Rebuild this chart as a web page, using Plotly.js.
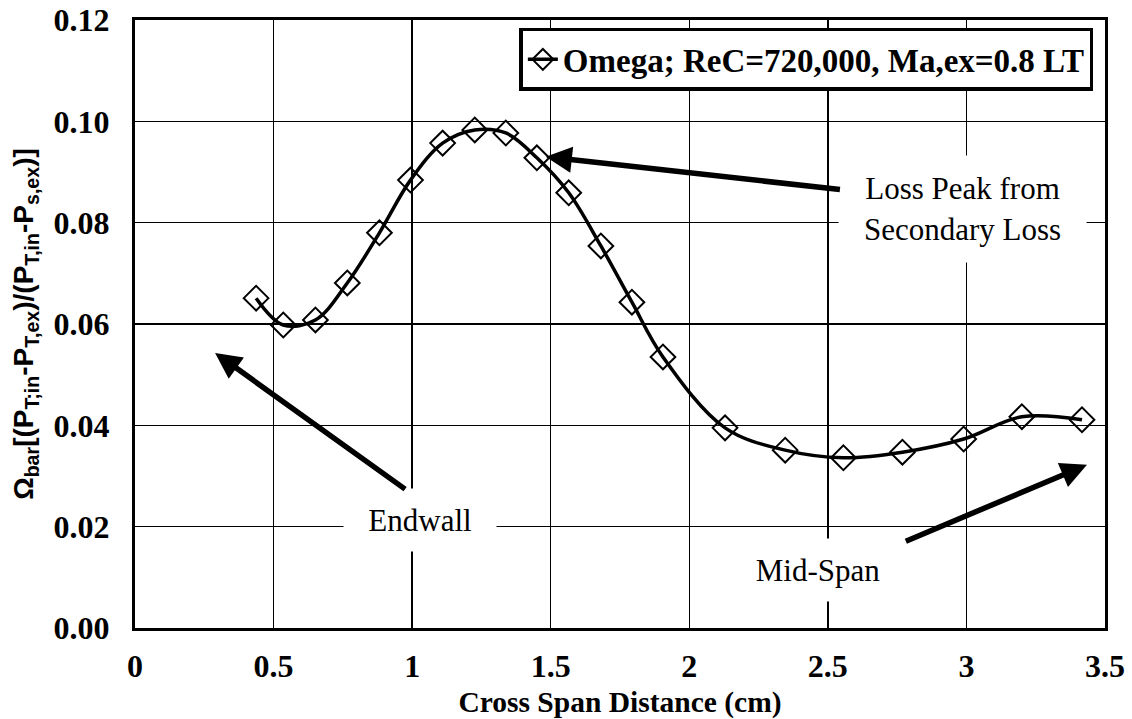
<!DOCTYPE html>
<html>
<head>
<meta charset="utf-8">
<script src="https://cdn.plot.ly/plotly-3.0.1.min.js"></script>
<style>html,body{margin:0;padding:0;background:#fff;}#chart{width:1132px;height:719px;}</style>
</head>
<body>
<div id="chart"></div>
<script>
// Data
const spanCm = [0.437, 0.535, 0.651, 0.766, 0.882, 0.994, 1.110, 1.226, 1.338, 1.450, 1.565, 1.681, 1.793, 1.905, 2.129, 2.346, 2.556, 2.769, 2.990, 3.200, 3.417];
const omegaBar = [0.0651, 0.0598, 0.0608, 0.0681, 0.0780, 0.0884, 0.0957, 0.0983, 0.0977, 0.0928, 0.0859, 0.0754, 0.0643, 0.0535, 0.0395, 0.0351, 0.0336, 0.0347, 0.0373, 0.0417, 0.0411];
const seriesName = "Omega; ReC=720,000, Ma,ex=0.8 LT";
const xTicks = [0, 0.5, 1, 1.5, 2, 2.5, 3, 3.5];
const xTickLabels = ["0", "0.5", "1", "1.5", "2", "2.5", "3", "3.5"];
const yTicks = [0, 0.02, 0.04, 0.06, 0.08, 0.10, 0.12];
const yTickLabels = ["0.00", "0.02", "0.04", "0.06", "0.08", "0.10", "0.12"];
const noteTexts = ["Loss Peak from<br>Secondary Loss", "Endwall", "Mid-Span"];

const serif = "Liberation Serif";

const trace = {
  x: spanCm, y: omegaBar, name: seriesName,
  type: "scatter", mode: "lines+markers",
  line: {color: "#000", width: 3.5, shape: "spline", smoothing: 1},
  marker: {symbol: "diamond-open", size: 19, color: "#000", line: {color: "#000", width: 2}}
};

const arrowStyle = {showarrow: true, arrowhead: 2, arrowsize: 0.95, arrowwidth: 5.5, arrowcolor: "#000",
  axref: "x", ayref: "y", xref: "x", yref: "y", text: ""};

const layout = {
  width: 1132, height: 719,
  margin: {l: 135, r: 27, t: 20, b: 91},
  paper_bgcolor: "#fff", plot_bgcolor: "#fff",
  font: {family: serif, color: "#000"},
  showlegend: true,
  legend: {x: 0.988, y: 0.987, xanchor: "right", yanchor: "top",
    bgcolor: "#fff", bordercolor: "#000", borderwidth: 3.5,
    font: {family: serif, size: 33, color: "#000", weight: "bold"}},
  xaxis: {range: [0, 3.5], tickvals: xTicks, ticktext: xTickLabels,
    showgrid: true, gridcolor: "#000", gridwidth: 1.5, zeroline: false,
    showline: true, linecolor: "#000", linewidth: 3, mirror: true, ticks: "",
    ticklabelstandoff: 8,
    tickfont: {family: serif, size: 32, color: "#000", weight: "bold"},
    title: {text: "Cross Span Distance (cm)", standoff: 10,
      font: {family: serif, size: 29.5, color: "#000", weight: "bold"}}},
  yaxis: {range: [0, 0.12], tickvals: yTicks, ticktext: yTickLabels,
    showgrid: true, gridcolor: "#000", gridwidth: 1.5, zeroline: false,
    showline: true, linecolor: "#000", linewidth: 3, mirror: true, ticks: "",
    ticklabelstandoff: 16,
    tickfont: {family: serif, size: 32, color: "#000", weight: "bold"},
    title: {text: "Ω<sub>bar</sub>[(P<sub>T;in</sub>-P<sub>T,ex</sub>)/(P<sub>T,in</sub>-P<sub>s,ex</sub>)]", standoff: 12,
      font: {family: "Liberation Sans", size: 28, color: "#000", weight: "bold"}}},
  annotations: [
    {x: 2.986, y: 0.0827, xref: "x", yref: "y", text: noteTexts[0], showarrow: false,
      bgcolor: "#fff", width: 247, height: 106, borderpad: 0,
      font: {family: serif, size: 31, color: "#000"}},
    {x: 1.027, y: 0.0213, xref: "x", yref: "y", text: noteTexts[1], showarrow: false,
      bgcolor: "#fff", width: 152, height: 62, borderpad: 0,
      font: {family: serif, size: 31, color: "#000"}},
    {x: 2.466, y: 0.01145, xref: "x", yref: "y", text: noteTexts[2], showarrow: false,
      bgcolor: "#fff", width: 160, height: 62, borderpad: 0,
      font: {family: serif, size: 31, color: "#000"}},
    Object.assign({}, arrowStyle, {x: 1.482, y: 0.0930, ax: 2.549, ay: 0.0865}),
    Object.assign({}, arrowStyle, {x: 0.289, y: 0.0543, ax: 0.980, ay: 0.0272}),
    Object.assign({}, arrowStyle, {x: 3.435, y: 0.0322, ax: 2.776, ay: 0.0170})
  ]
};

Plotly.newPlot("chart", [trace], layout, {displayModeBar: false, staticPlot: true});
</script>
</body>
</html>
